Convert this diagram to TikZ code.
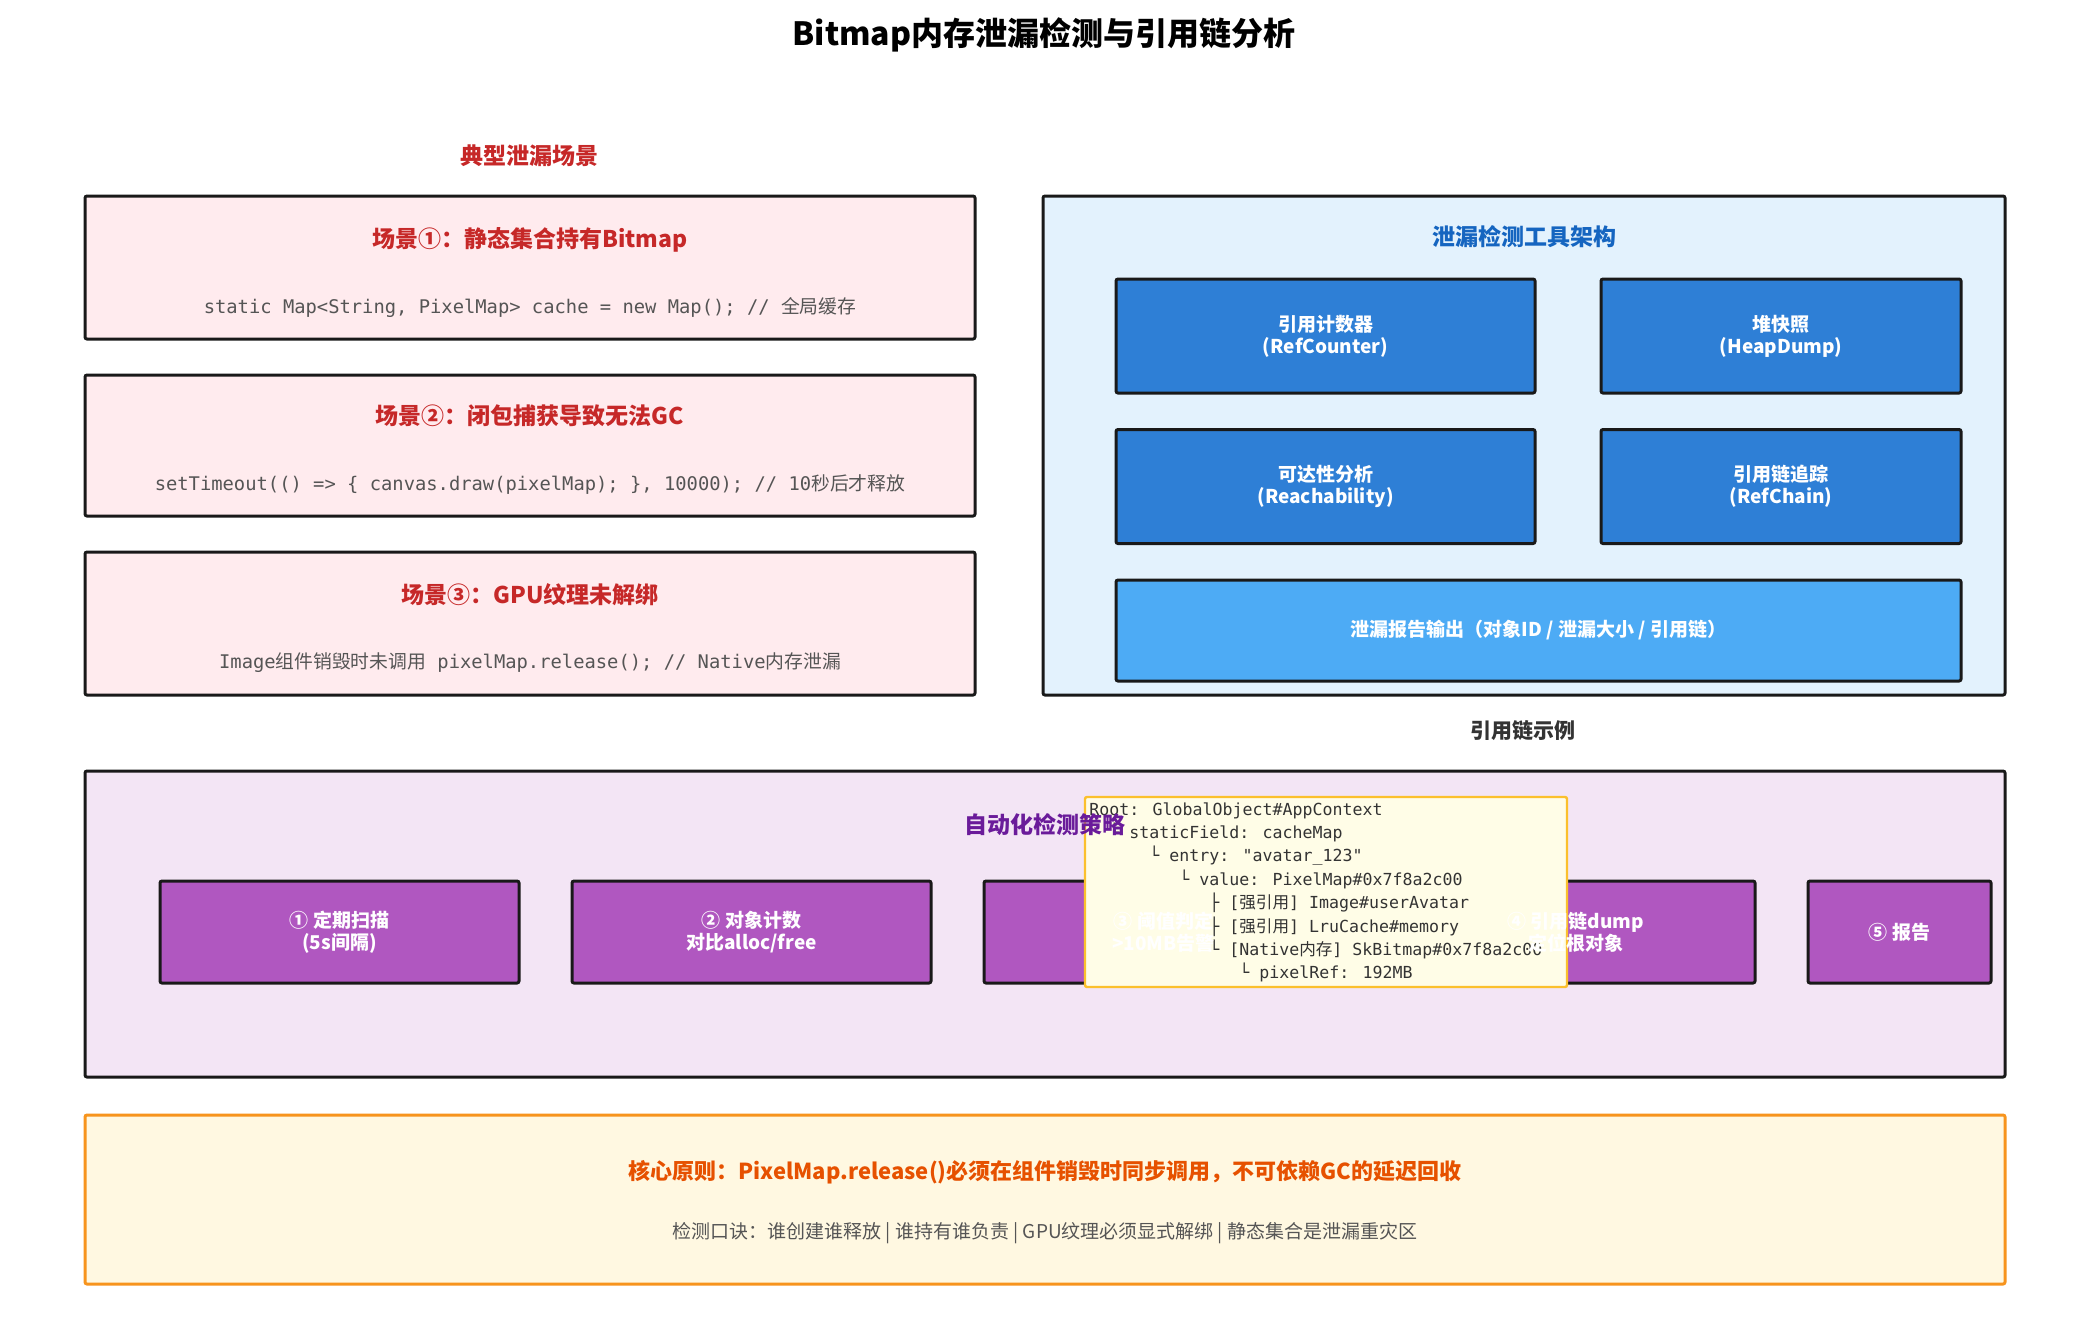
\documentclass[tikz,border=0pt]{standalone}
\usepackage{fontspec}
\setmainfont{Noto Sans CJK SC}
\newfontfamily\cjk{Noto Sans CJK SC}
\newfontfamily\mono{DejaVu Sans Mono}
\usetikzlibrary{positioning}
\definecolor{scnfill}{HTML}{FFEBEE}
\definecolor{scnred}{HTML}{C62828}
\definecolor{toolfill}{HTML}{E3F2FD}
\definecolor{toolblue}{HTML}{1565C0}
\definecolor{boxblue}{HTML}{2E7FD6}
\definecolor{repblue}{HTML}{4DABF5}
\definecolor{stratfill}{HTML}{F3E5F5}
\definecolor{stratpurple}{HTML}{6A1B9A}
\definecolor{boxpurple}{HTML}{B057C0}
\definecolor{chainfill}{HTML}{FFFDE7}
\definecolor{chainline}{HTML}{FBC02D}
\definecolor{corefill}{HTML}{FFF8E1}
\definecolor{coreline}{HTML}{F7941D}
\definecolor{coretext}{HTML}{E65100}
\definecolor{codegray}{HTML}{555555}
\begin{document}
\begin{tikzpicture}[x=0.5pt,y=-0.5pt]
    \tikzset{panel/.style = {draw=black!90, line width=1.5pt, rounded corners=1pt}}
    \tikzset{blk/.style = {draw=black!90, line width=1.5pt, rounded corners=1pt, text=white, font=\bfseries\fontsize{9.5}{11}\selectfont, align=center}}
    \tikzset{blktext/.style = {text=white, font=\bfseries\fontsize{9.5}{11}\selectfont, align=center}}
    \tikzset{code/.style = {text=codegray, font=\mono\fontsize{9.4}{11}\selectfont}}
    \tikzset{head/.style = {font=\bfseries\fontsize{11.5}{13}\selectfont}}
    \useasboundingbox (0,0) rectangle (2080,1330);

    % title
    \node[font=\bfseries\fontsize{16}{18}\selectfont] (title) at (1044,35) {Bitmap内存泄漏检测与引用链分析};

    % scenarios
    \node[head, text=scnred] (scnhead) at (529,156) {典型泄漏场景};
    \foreach \i/\yt/\yb in {1/196/339, 2/375/516, 3/552/695}
        \draw[panel, fill=scnfill] (85,\yt) rectangle (975,\yb);
    \node[head, text=scnred] (s1) at (530,240) {场景①：静态集合持有Bitmap};
    \node[code] (c1) at (530,308) {static Map<String, PixelMap> cache = new Map(); // {\cjk 全局缓存}};
    \node[head, text=scnred] (s2) at (530,416) {场景②：闭包捕获导致无法GC};
    \node[code] (c2) at (530,485) {setTimeout(() => \{ canvas.draw(pixelMap); \}, 10000); // 10{\cjk 秒后才释放}};
    \node[head, text=scnred] (s3) at (530,595) {场景③：GPU纹理未解绑};
    \node[code] (c3) at (530,663) {Image{\cjk 组件销毁时未调用} pixelMap.release(); // Native{\cjk 内存泄漏}};

    % tool architecture
    \draw[panel, fill=toolfill] (1043,196) rectangle (2005,695);
    \node[head, text=toolblue] (toolhead) at (1524,237) {泄漏检测工具架构};
    \node[blk, fill=boxblue, minimum width=209.5pt, minimum height=57pt] (refcnt) at (1325.5,336) {引用计数器\\(RefCounter)};
    \node[blk, fill=boxblue, minimum width=180pt, minimum height=57pt] (heap) at (1781,336) {堆快照\\(HeapDump)};
    \node[blk, fill=boxblue, minimum width=209.5pt, minimum height=57pt] (reach) at (1325.5,486.5) {可达性分析\\(Reachability)};
    \node[blk, fill=boxblue, minimum width=180pt, minimum height=57pt] (chain) at (1781,486.5) {引用链追踪\\(RefChain)};
    \node[blk, fill=repblue, minimum width=422.5pt, minimum height=50.5pt] (report) at (1538.5,630.5) {泄漏报告输出（对象ID / 泄漏大小 / 引用链）};

    % strategy
    \node[font=\bfseries\fontsize{10.5}{12}\selectfont, text=black!80] (chainhead) at (1523,731) {引用链示例};
    \draw[panel, fill=stratfill] (85,771) rectangle (2005,1077);
    \node[blk, fill=boxpurple, minimum width=179.5pt, minimum height=51pt] (st1) at (339.5,932) {};
    \node[blk, fill=boxpurple, minimum width=179.5pt, minimum height=51pt] (st2) at (751.5,932) {};
    \node[blk, fill=boxpurple, minimum width=179.5pt, minimum height=51pt] (st3) at (1163.5,932) {};
    \node[blk, fill=boxpurple, minimum width=179.5pt, minimum height=51pt] (st4) at (1575.5,932) {};
    \node[blk, fill=boxpurple, minimum width=91.5pt, minimum height=51pt] (st5) at (1899.5,932) {};

    % reference chain
    \draw[draw=chainline, line width=1.2pt, fill=chainfill, rounded corners=1pt] (1085,797) rectangle (1567,987);
    \node[anchor=north west, inner sep=0pt, align=left, text=black!80, font=\mono\fontsize{8.3}{11.7}\selectfont] (tree) at (1089,802) {%
Root: GlobalObject\#AppContext\\
\ \ └ staticField: cacheMap\\
\ \ \ \ \ \ └ entry: "avatar\_123"\\
\ \ \ \ \ \ \ \ \ └ value: PixelMap\#0x7f8a2c00\\
\ \ \ \ \ \ \ \ \ \ \ \ ├ [{\cjk 强引用}] Image\#userAvatar\\
\ \ \ \ \ \ \ \ \ \ \ \ ├ [{\cjk 强引用}] LruCache\#memory\\
\ \ \ \ \ \ \ \ \ \ \ \ └ [Native{\cjk 内存}] SkBitmap\#0x7f8a2c00\\
\ \ \ \ \ \ \ \ \ \ \ \ \ \ \ └ pixelRef: 192MB};

    % labels drawn over the chain box
    \node[head, text=stratpurple] (strathead) at (1045,825) {自动化检测策略};
    \node[blktext] (lb1) at (st1) {① 定期扫描\\(5s间隔)};
    \node[blktext] (lb2) at (st2) {② 对象计数\\对比alloc/free};
    \node[blktext] (lb3) at (st3) {③ 阈值判定\\>10MB告警};
    \node[blktext] (lb4) at (st4) {④ 引用链dump\\定位根对象};
    \node[blktext] (lb5) at (st5) {⑤ 报告};

    % core principle
    \draw[draw=coreline, line width=1.5pt, fill=corefill, rounded corners=1pt] (85,1115) rectangle (2005,1284);
    \node[font=\bfseries\fontsize{11}{13}\selectfont, text=coretext] (core) at (1045,1172) {核心原则：PixelMap.release()必须在组件销毁时同步调用，不可依赖GC的延迟回收};
    \node[font=\fontsize{9.5}{11}\selectfont, text=codegray] (rhyme) at (1045,1233) {检测口诀：谁创建谁释放 | 谁持有谁负责 | GPU纹理必须显式解绑 | 静态集合是泄漏重灾区};
\end{tikzpicture}
\end{document}
